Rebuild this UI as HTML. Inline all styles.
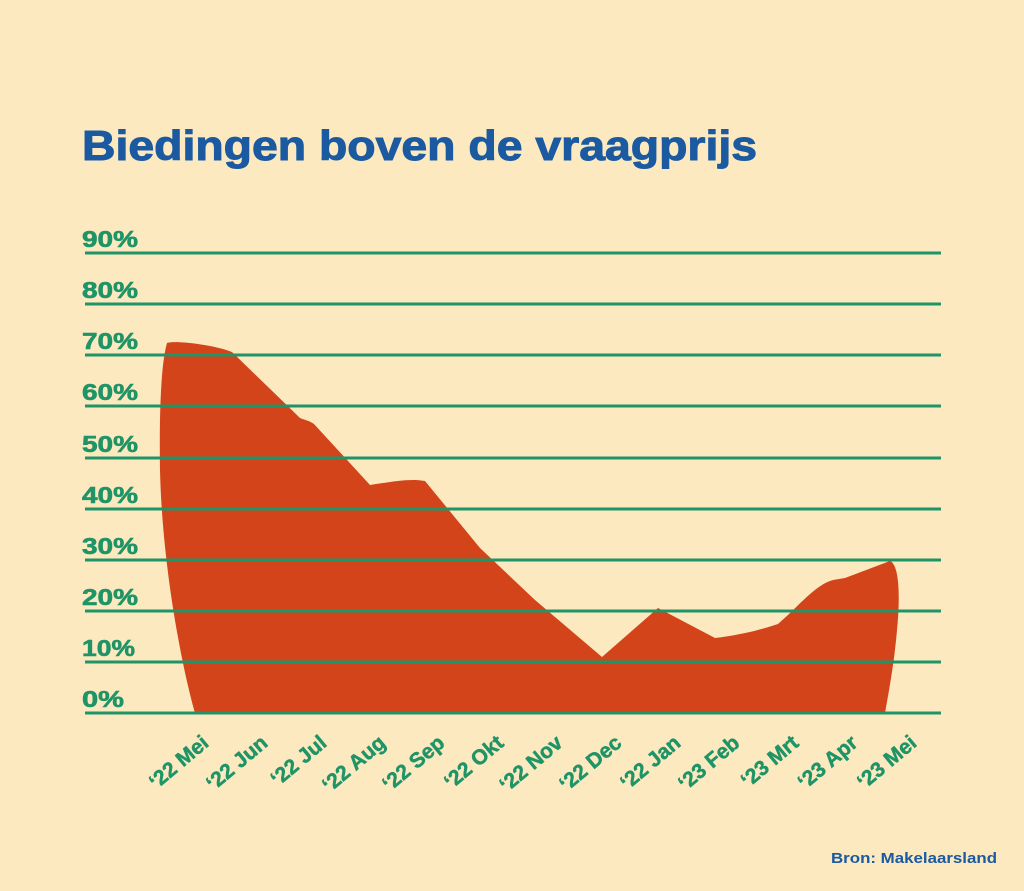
<!DOCTYPE html>
<html><head><meta charset="utf-8"><style>
body{margin:0;background:#fce9c0;}
svg{display:block}
text{font-family:"Liberation Sans",sans-serif;font-weight:bold}
</style></head><body>
<svg width="1024" height="891" viewBox="0 0 1024 891">
<rect width="1024" height="891" fill="#fce9c0"/>
<text x="82" y="160" font-size="42" fill="#1b5aa0" textLength="675" lengthAdjust="spacingAndGlyphs" stroke="#1b5aa0" stroke-width="1">Biedingen boven de vraagprijs</text>
<path d="M195,713 C180,660 162,560 160,470 C159,400 162,360 167,343 C175,340 215,345 232,352 L300,418 C305,420 310,421 314,424 L370,485 C390,482 410,478 425,481 L480,548 L535,600 L602,657 L658,608 L715,638 C740,635 760,630 778,624 C800,605 815,585 833,580 L845,578 L890,561 C900,565 900,600 897,630 C894,665 889,690 885,713 Z" fill="#d4441a"/>
<g stroke="#1f9467" stroke-width="3">
<line x1="85" y1="253" x2="941" y2="253"/>
<line x1="85" y1="304" x2="941" y2="304"/>
<line x1="85" y1="355" x2="941" y2="355"/>
<line x1="85" y1="406" x2="941" y2="406"/>
<line x1="85" y1="458" x2="941" y2="458"/>
<line x1="85" y1="509" x2="941" y2="509"/>
<line x1="85" y1="560" x2="941" y2="560"/>
<line x1="85" y1="611" x2="941" y2="611"/>
<line x1="85" y1="662" x2="941" y2="662"/>
<line x1="85" y1="713" x2="941" y2="713"/>
</g>
<g fill="#1f9467" font-size="23" stroke="#1f9467" stroke-width="0.6">
<text x="82" y="247" textLength="56" lengthAdjust="spacingAndGlyphs">90%</text>
<text x="82" y="298" textLength="56" lengthAdjust="spacingAndGlyphs">80%</text>
<text x="82" y="349" textLength="56" lengthAdjust="spacingAndGlyphs">70%</text>
<text x="82" y="400" textLength="56" lengthAdjust="spacingAndGlyphs">60%</text>
<text x="82" y="452" textLength="56" lengthAdjust="spacingAndGlyphs">50%</text>
<text x="82" y="503" textLength="56" lengthAdjust="spacingAndGlyphs">40%</text>
<text x="82" y="554" textLength="56" lengthAdjust="spacingAndGlyphs">30%</text>
<text x="82" y="605" textLength="56" lengthAdjust="spacingAndGlyphs">20%</text>
<text x="82" y="656" textLength="53" lengthAdjust="spacingAndGlyphs">10%</text>
<text x="82" y="707" textLength="42" lengthAdjust="spacingAndGlyphs">0%</text>
</g>
<g fill="#1f9467" font-size="21" text-anchor="end" stroke="#1f9467" stroke-width="0.5">
<text transform="translate(210,745) rotate(-40)">‘22 Mei</text>
<text transform="translate(269,745) rotate(-40)">‘22 Jun</text>
<text transform="translate(328,745) rotate(-40)">‘22 Jul</text>
<text transform="translate(387,745) rotate(-40)">‘22 Aug</text>
<text transform="translate(446,745) rotate(-40)">‘22 Sep</text>
<text transform="translate(505,745) rotate(-40)">‘22 Okt</text>
<text transform="translate(564,745) rotate(-40)">‘22 Nov</text>
<text transform="translate(623,745) rotate(-40)">‘22 Dec</text>
<text transform="translate(682,745) rotate(-40)">‘22 Jan</text>
<text transform="translate(741,745) rotate(-40)">‘23 Feb</text>
<text transform="translate(800,745) rotate(-40)">‘23 Mrt</text>
<text transform="translate(859,745) rotate(-40)">‘23 Apr</text>
<text transform="translate(918,745) rotate(-40)">‘23 Mei</text>
</g>
<text x="831" y="863" font-size="15" fill="#1b5aa0" textLength="166" lengthAdjust="spacingAndGlyphs">Bron: Makelaarsland</text>
</svg>
</body></html>
